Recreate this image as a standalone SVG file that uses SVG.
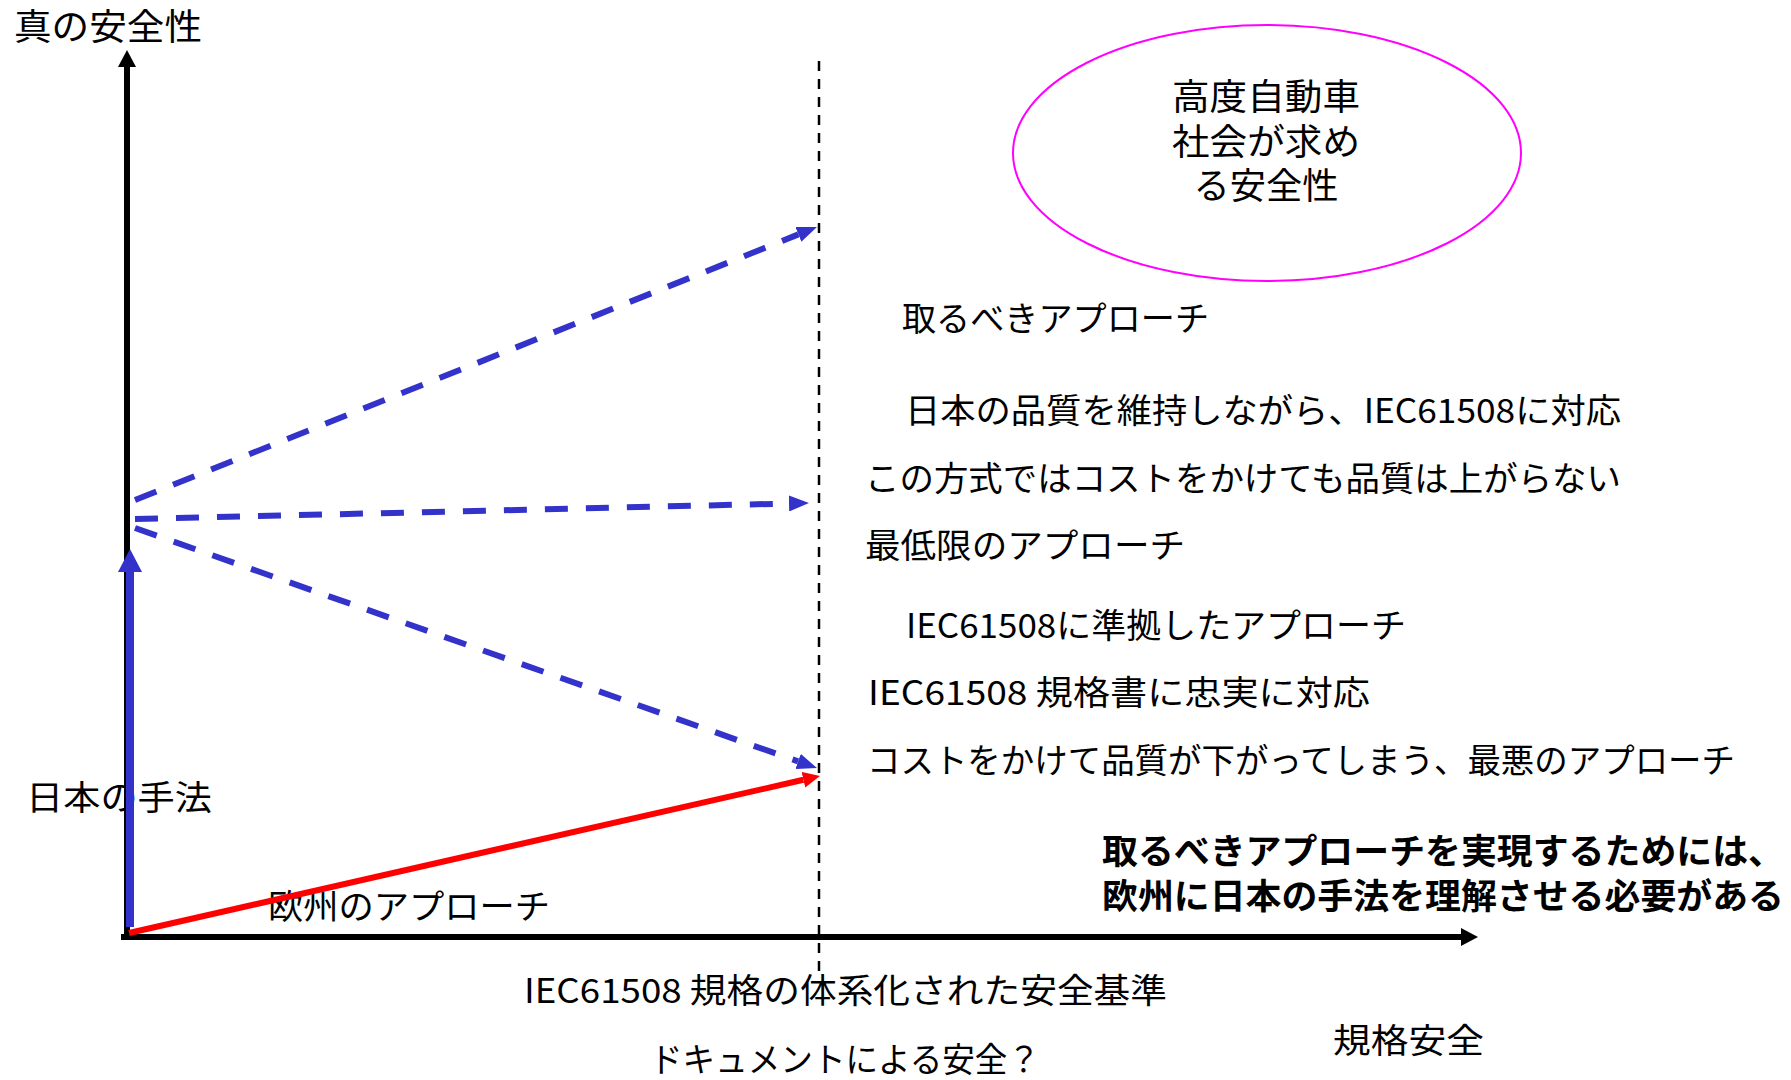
<svg xmlns="http://www.w3.org/2000/svg" width="1791" height="1080" viewBox="0 0 1791 1080">
<style>
  text { font-family: "Noto Sans CJK JP", "Noto Sans", sans-serif; fill: #000; }
  .t { font-size: 34px; }
  .big { font-size: 36px; }
  .bold { font-size: 35px; font-weight: bold; }
  .axis { stroke: #000; stroke-width: 6; fill: none; }
  .blue { stroke: #3333CC; stroke-width: 8; fill: none; }
  .bdash { stroke: #3333CC; stroke-width: 6; fill: none; stroke-dasharray: 23 18; }
  .red { stroke: #FF0000; stroke-width: 6; fill: none; }
  .vdash { stroke: #000; stroke-width: 2.5; fill: none; stroke-dasharray: 10 8; }
</style>
<defs>
  <marker id="hBlack" markerUnits="userSpaceOnUse" viewBox="0 -9 17 18" markerWidth="17" markerHeight="18" refX="0" refY="0" orient="auto">
    <path d="M0,-9 L17,0 L0,9 z" fill="#000"/>
  </marker>
  <marker id="hBlueBig" markerUnits="userSpaceOnUse" viewBox="0 -12 23 24" markerWidth="23" markerHeight="24" refX="0" refY="0" orient="auto">
    <path d="M0,-12 L23,0 L0,12 z" fill="#3333CC"/>
  </marker>
  <marker id="hBlue" markerUnits="userSpaceOnUse" viewBox="0 -8 20 16" markerWidth="20" markerHeight="16" refX="0" refY="0" orient="auto">
    <path d="M0,-8 L20,0 L0,8 z" fill="#3333CC"/>
  </marker>
  <marker id="hRed" markerUnits="userSpaceOnUse" viewBox="0 -8 17 16" markerWidth="17" markerHeight="16" refX="0" refY="0" orient="auto">
    <path d="M0,-8 L17,0 L0,8 z" fill="#FF0000"/>
  </marker>
</defs>

<g id="label-y-axis"><text class="big" x="14" y="40" textLength="188" lengthAdjust="spacingAndGlyphs">真の安全性</text></g>

<g id="node-goal">
  <ellipse cx="1267" cy="153" rx="254" ry="128" fill="none" stroke="#FF00FF" stroke-width="2"/>
  <text class="big" x="1266" y="110" text-anchor="middle" textLength="188" lengthAdjust="spacingAndGlyphs">高度自動車</text>
  <text class="big" x="1266" y="155" text-anchor="middle" textLength="188" lengthAdjust="spacingAndGlyphs">社会が求め</text>
  <text class="big" x="1266" y="199" text-anchor="middle" textLength="145" lengthAdjust="spacingAndGlyphs">る安全性</text>
</g>

<g id="node-upper">
  <text class="t" x="902" y="331" textLength="307" lengthAdjust="spacingAndGlyphs">取るべきアプローチ</text>
  <text class="t" x="905" y="423" textLength="716" lengthAdjust="spacingAndGlyphs">日本の品質を維持しながら、IEC61508に対応</text>
</g>
<g id="node-middle">
  <text class="t" x="865" y="491" textLength="756" lengthAdjust="spacingAndGlyphs">この方式ではコストをかけても品質は上がらない</text>
  <text class="t" x="865" y="558" textLength="320" lengthAdjust="spacingAndGlyphs">最低限のアプローチ</text>
</g>
<g id="node-lower">
  <text class="t" x="906" y="638" textLength="500" lengthAdjust="spacingAndGlyphs">IEC61508に準拠したアプローチ</text>
  <text class="t" x="868" y="705" textLength="502" lengthAdjust="spacingAndGlyphs">IEC61508 規格書に忠実に対応</text>
  <text class="t" x="867" y="773" textLength="868" lengthAdjust="spacingAndGlyphs">コストをかけて品質が下がってしまう、最悪のアプローチ</text>
</g>
<g id="node-conclusion">
  <text class="bold" x="1102" y="864" textLength="682" lengthAdjust="spacingAndGlyphs">取るべきアプローチを実現するためには、</text>
  <text class="bold" x="1102" y="909" textLength="682" lengthAdjust="spacingAndGlyphs">欧州に日本の手法を理解させる必要がある</text>
</g>
<g id="label-japan"><text class="t" x="26" y="810" textLength="186" lengthAdjust="spacingAndGlyphs">日本の手法</text></g>
<g id="label-europe"><text class="t" x="268" y="919" textLength="282" lengthAdjust="spacingAndGlyphs">欧州のアプローチ</text></g>
<g id="label-x-axis">
  <text class="t" x="524" y="1003" textLength="643" lengthAdjust="spacingAndGlyphs">IEC61508 規格の体系化された安全基準</text>
  <text class="t" x="650" y="1072" textLength="390" lengthAdjust="spacingAndGlyphs">ドキュメントによる安全？</text>
  <text class="t" x="1333" y="1053" textLength="151" lengthAdjust="spacingAndGlyphs">規格安全</text>
</g>

<g id="connectors">
  <line class="vdash" x1="819" y1="61" x2="819" y2="972"/>
  <line class="axis" x1="127" y1="940" x2="127" y2="67" marker-end="url(#hBlack)"/>
  <line class="axis" x1="121" y1="937" x2="1461" y2="937" marker-end="url(#hBlack)"/>
  <line class="blue" x1="130" y1="927" x2="130" y2="572" marker-end="url(#hBlueBig)"/>
  <line class="red" x1="129" y1="933" x2="803.4" y2="779.8" marker-end="url(#hRed)"/>
  <line class="bdash" x1="135" y1="500" x2="798.4" y2="234.4" marker-end="url(#hBlue)"/>
  <line class="bdash" x1="135" y1="519" x2="789" y2="503.5" marker-end="url(#hBlue)"/>
  <line class="bdash" x1="135" y1="528" x2="798.1" y2="761.4" marker-end="url(#hBlue)"/>
</g>
</svg>
